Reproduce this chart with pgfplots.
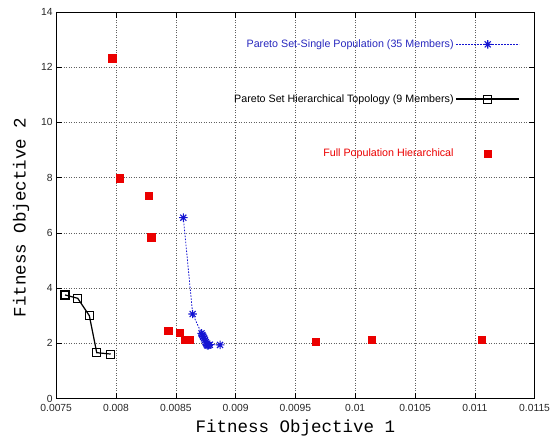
\documentclass[border=0pt]{standalone}
\usepackage{pgfplots}
\pgfplotsset{compat=1.18}
\usepackage{fontspec}
\setmainfont{Liberation Sans}
\newfontfamily\courfont{Liberation Mono}
\definecolor{pblue}{RGB}{20,20,210}
\definecolor{tblue}{RGB}{40,40,190}
\definecolor{pred}{RGB}{235,0,0}
\pgfdeclareplotmark{gstar}{%
  \pgfpathmoveto{\pgfqpoint{-\pgfplotmarksize}{0pt}}\pgfpathlineto{\pgfqpoint{\pgfplotmarksize}{0pt}}%
  \pgfpathmoveto{\pgfqpoint{0pt}{-\pgfplotmarksize}}\pgfpathlineto{\pgfqpoint{0pt}{\pgfplotmarksize}}%
  \pgfpathmoveto{\pgfqpoint{-.72\pgfplotmarksize}{-.72\pgfplotmarksize}}\pgfpathlineto{\pgfqpoint{.72\pgfplotmarksize}{.72\pgfplotmarksize}}%
  \pgfpathmoveto{\pgfqpoint{-.72\pgfplotmarksize}{.72\pgfplotmarksize}}\pgfpathlineto{\pgfqpoint{.72\pgfplotmarksize}{-.72\pgfplotmarksize}}%
  \pgfusepathqstroke}
\begin{document}
\begin{tikzpicture}
\begin{axis}[
  at={(0pt,0pt)}, anchor=south west,
  scale only axis, width=478.4pt, height=386.5pt,
  xmin=0.0075, xmax=0.0115, ymin=0, ymax=14,
  xtick={0.0075,0.008,0.0085,0.009,0.0095,0.01,0.0105,0.011,0.0115},
  ytick={0,2,4,6,8,10,12,14},
  scaled x ticks=false,
  xticklabel style={/pgf/number format/fixed,/pgf/number format/precision=4, yshift=-2pt},
  /pgf/number format/assume math mode=true,
  tick label style={font=\fontsize{10.3}{12}\selectfont, text=black!85},
  tick align=inside, major tick length=6pt,
  tick style={black, line width=0.6pt},
  axis line style={line width=0.8pt},
  grid=major,
  grid style={dash pattern=on 1pt off 1.5pt, gray!75!black, line width=0.55pt},
  xlabel={\courfont Fitness Objective 1},
  ylabel={\courfont Fitness Objective 2},
  label style={font=\fontsize{17.5}{20}\selectfont},
  xlabel style={at={(axis description cs:0.5,0)}, anchor=center, yshift=-29.5pt},
  ylabel style={at={(axis description cs:0,0.468)}, anchor=center, yshift=35pt},
  legend plot pos=right,
  legend cell align=right,
  legend image code/.code={\draw[mark repeat=2,mark phase=2,#1] plot coordinates {(0pt,0pt) (31.5pt,0pt) (63pt,0pt)};},
  legend style={at={(axis description cs:0.9695,0.934)}, anchor=north east,
    draw=none, fill=none, inner sep=0pt, row sep=41.5pt,
    font=\fontsize{10.7}{12}\selectfont},
]
\addplot[pblue, line width=0.8pt, dash pattern=on 1.6pt off 1.4pt, mark=gstar, mark size=4.2pt, mark options={solid, line width=1.1pt}]
coordinates {
(0.008563,6.55) (0.008641,3.06) (0.008715,2.36) (0.008722,2.30) (0.008729,2.24)
(0.008736,2.18) (0.008744,2.12) (0.008750,2.04) (0.008756,1.97) (0.008762,1.93)
(0.008768,1.92) (0.008775,1.93) (0.008785,1.95) (0.008870,1.94)
};
\addlegendentry{\textcolor{tblue}{Pareto Set-Single Population (35 Members)}}
\addplot[black, line width=1.2pt, mark=square, mark size=4pt, mark options={solid, line width=1.1pt}]
coordinates {
(0.007574,3.75) (0.007680,3.63) (0.007777,3.00) (0.007839,1.66) (0.007956,1.61)
};
\addlegendentry{Pareto Set Hierarchical Topology (9 Members)}
\addplot[only marks, pred, mark=square*, mark size=3.6pt]
coordinates {
(0.007969,12.33) (0.008028,7.98) (0.008276,7.34) (0.008295,5.84)
(0.008437,2.46) (0.008535,2.38) (0.008577,2.14) (0.008619,2.14)
(0.009672,2.05) (0.010135,2.14) (0.011060,2.12)
};
\addlegendentry{\textcolor{pred}{Full Population Hierarchical}}
\end{axis}
\pgfresetboundingbox
\path (-56.2pt,-41.5pt) rectangle (494.8pt,398.5pt);
\end{tikzpicture}
\end{document}
